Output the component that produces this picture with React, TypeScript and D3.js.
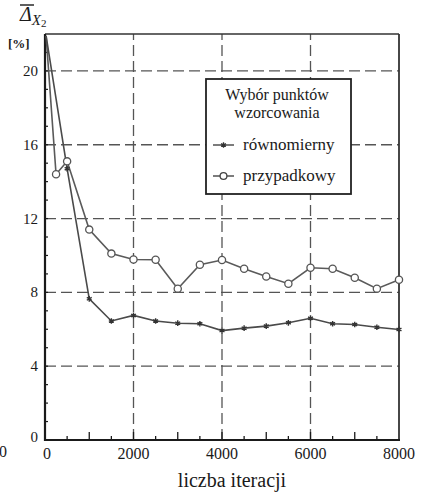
import React, { useRef, useEffect } from "react";
import * as d3 from "d3";

// iteration numbers and values for each series
const iterRowne = [25, 500, 1000, 1500, 2000, 2500, 3000, 3500, 4000, 4500, 5000, 5500, 6000, 6500, 7000, 7500, 8000];
const valRowne = [21.9, 14.7, 7.65, 6.45, 6.75, 6.45, 6.33, 6.3, 5.93, 6.06, 6.17, 6.35, 6.6, 6.3, 6.26, 6.11, 5.99];

const iterPrzyp = [25, 250, 500, 1000, 1500, 2000, 2500, 3000, 3500, 4000, 4500, 5000, 5500, 6000, 6500, 7000, 7500, 8000];
const valPrzyp = [21.9, 14.4, 15.1, 11.4, 10.1, 9.78, 9.77, 8.2, 9.5, 9.75, 9.28, 8.86, 8.47, 9.33, 9.28, 8.79, 8.2, 8.68];

const yTicks = [0, 4, 8, 12, 16, 20];
const xTicks = [0, 2000, 4000, 6000, 8000];
const xGrid = [2000, 4000, 6000];
const yGrid = [4, 8, 12, 16, 20];

const W = 422;
const H = 493;

const Chart = () => {
  const svgRef = useRef(null);

  useEffect(() => {
    const svg = d3.select(svgRef.current);
    svg.selectAll("*").remove();

    const margin = { top: 34, right: 23, bottom: 53, left: 45 };
    const x = d3.scaleLinear().domain([0, 8000]).range([margin.left, W - margin.right]);
    const y = d3.scaleLinear().domain([0, 22]).range([H - margin.bottom, margin.top]);
    const font = "Liberation Serif";
    const ink = "#1a1a1a";
    const grid = "#555";

    // grid
    svg.append("g")
      .selectAll("line")
      .data(yGrid)
      .join("line")
      .attr("x1", x(0)).attr("x2", x(8000))
      .attr("y1", (d) => y(d)).attr("y2", (d) => y(d))
      .attr("stroke", grid).attr("stroke-width", 1.3)
      .attr("stroke-dasharray", "11,5");
    svg.append("g")
      .selectAll("line")
      .data(xGrid)
      .join("line")
      .attr("x1", (d) => x(d)).attr("x2", (d) => x(d))
      .attr("y1", y(0)).attr("y2", y(22))
      .attr("stroke", grid).attr("stroke-width", 1.3)
      .attr("stroke-dasharray", "11,5");

    // minor ticks
    const minorX = d3.range(500, 8000, 500);
    svg.append("g")
      .selectAll("line")
      .data(minorX)
      .join("line")
      .attr("x1", (d) => x(d)).attr("x2", (d) => x(d))
      .attr("y1", y(0)).attr("y2", (d) => y(0) - (d % 1000 === 0 ? 8 : 4))
      .attr("stroke", ink).attr("stroke-width", 1.3);
    svg.append("g")
      .selectAll("line")
      .data(d3.range(1, 22))
      .join("line")
      .attr("x1", x(0)).attr("x2", x(0) + 3)
      .attr("y1", (d) => y(d)).attr("y2", (d) => y(d))
      .attr("stroke", ink).attr("stroke-width", 1.2);

    // frame
    svg.append("line")
      .attr("x1", x(0)).attr("x2", x(8000)).attr("y1", y(22)).attr("y2", y(22))
      .attr("stroke", "#333").attr("stroke-width", 1.5);
    svg.append("line")
      .attr("x1", x(8000)).attr("x2", x(8000)).attr("y1", y(22)).attr("y2", y(0))
      .attr("stroke", "#333").attr("stroke-width", 1.8);
    svg.append("line")
      .attr("x1", x(0)).attr("x2", x(0)).attr("y1", y(22)).attr("y2", y(0) + 1)
      .attr("stroke", ink).attr("stroke-width", 2.2);
    svg.append("line")
      .attr("x1", x(0) - 1).attr("x2", x(8000) + 1).attr("y1", y(0)).attr("y2", y(0))
      .attr("stroke", ink).attr("stroke-width", 2.2);

    // series
    const line = d3.line().x((d) => x(d[0])).y((d) => y(d[1]));
    const rowne = iterRowne.map((d, i) => [d, valRowne[i]]);
    const przyp = iterPrzyp.map((d, i) => [d, valPrzyp[i]]);

    svg.append("path").datum(przyp)
      .attr("fill", "none").attr("stroke", "#5a5a5a").attr("stroke-width", 1.6)
      .attr("d", line);
    svg.append("path").datum(rowne)
      .attr("fill", "none").attr("stroke", "#4a4a4a").attr("stroke-width", 1.6)
      .attr("d", line);

    const star = d3.symbol().type(d3.symbolAsterisk).size(22);
    svg.append("g")
      .selectAll("path")
      .data(rowne.slice(1))
      .join("path")
      .attr("transform", (d) => `translate(${x(d[0])},${y(d[1])})`)
      .attr("d", star)
      .attr("fill", "none").attr("stroke", "#333").attr("stroke-width", 1.4);
    svg.append("g")
      .selectAll("circle")
      .data(przyp.slice(1))
      .join("circle")
      .attr("cx", (d) => x(d[0])).attr("cy", (d) => y(d[1]))
      .attr("r", 3.6)
      .attr("fill", "white").attr("stroke", "#555").attr("stroke-width", 1.3);

    // tick labels
    svg.append("g")
      .selectAll("text")
      .data(yTicks)
      .join("text")
      .attr("x", 38).attr("y", (d) => y(d) + 5 - (d === 0 ? 3 : 0))
      .attr("text-anchor", "end")
      .attr("font-family", font).attr("font-size", 15).attr("fill", ink)
      .text((d) => d);
    svg.append("g")
      .selectAll("text")
      .data(xTicks)
      .join("text")
      .attr("x", (d) => x(d) + (d === 0 ? 2 : 0)).attr("y", 459)
      .attr("text-anchor", "middle")
      .attr("font-family", font).attr("font-size", 16).attr("fill", ink)
      .text((d) => d);
    svg.append("text")
      .attr("x", -1).attr("y", 457)
      .attr("font-family", font).attr("font-size", 16).attr("fill", ink)
      .text("0");

    svg.append("text")
      .attr("x", x(4000) + 10).attr("y", 487)
      .attr("text-anchor", "middle")
      .attr("font-family", font).attr("font-size", 20).attr("fill", ink)
      .text("liczba iteracji");

    svg.append("text")
      .attr("x", 8).attr("y", 48)
      .attr("font-family", font).attr("font-size", 13).attr("font-weight", "bold").attr("fill", ink)
      .text("[%]");

    // y title: overlined delta with subscript
    const title = svg.append("text")
      .attr("x", 20).attr("y", 21)
      .attr("font-family", font).attr("font-style", "italic").attr("fill", ink);
    title.append("tspan").attr("font-size", 20).text("Δ");
    title.append("tspan").attr("font-size", 15).attr("dy", 4).text("X");
    title.append("tspan").attr("font-size", 11).attr("font-style", "normal").attr("dy", 2).text("2");
    svg.append("line")
      .attr("x1", 20).attr("x2", 34).attr("y1", 5).attr("y2", 5)
      .attr("stroke", ink).attr("stroke-width", 1.4);

    // legend
    const lg = svg.append("g");
    lg.append("rect")
      .attr("x", 206).attr("y", 79).attr("width", 145).attr("height", 115)
      .attr("fill", "white").attr("stroke", "#222").attr("stroke-width", 1.8);
    lg.append("text")
      .attr("x", 277).attr("y", 100).attr("text-anchor", "middle")
      .attr("font-family", font).attr("font-size", 16).attr("fill", ink)
      .text("Wybór punktów");
    lg.append("text")
      .attr("x", 277).attr("y", 118).attr("text-anchor", "middle")
      .attr("font-family", font).attr("font-size", 16).attr("fill", ink)
      .text("wzorcowania");
    const items = [
      { label: "równomierny", yy: 145, kind: "star" },
      { label: "przypadkowy", yy: 176, kind: "circle" },
    ];
    items.forEach((it) => {
      lg.append("line")
        .attr("x1", 213).attr("x2", 234).attr("y1", it.yy).attr("y2", it.yy)
        .attr("stroke", "#444").attr("stroke-width", 1.4);
      if (it.kind === "star") {
        lg.append("path")
          .attr("transform", `translate(223.5,${it.yy})`)
          .attr("d", star)
          .attr("fill", "none").attr("stroke", "#333").attr("stroke-width", 1.3);
      } else {
        lg.append("circle")
          .attr("cx", 223.5).attr("cy", it.yy).attr("r", 3.4)
          .attr("fill", "white").attr("stroke", "#444").attr("stroke-width", 1.3);
      }
      lg.append("text")
        .attr("x", 243).attr("y", it.yy + 5)
        .attr("font-family", font).attr("font-size", 17).attr("fill", ink)
        .text(it.label);
    });
  }, []);

  return (
    <svg ref={svgRef} width={W} height={H} style={{ position: "absolute", left: 0, top: 0 }}></svg>
  );
};

export default function App() {
  return <Chart />;
}
